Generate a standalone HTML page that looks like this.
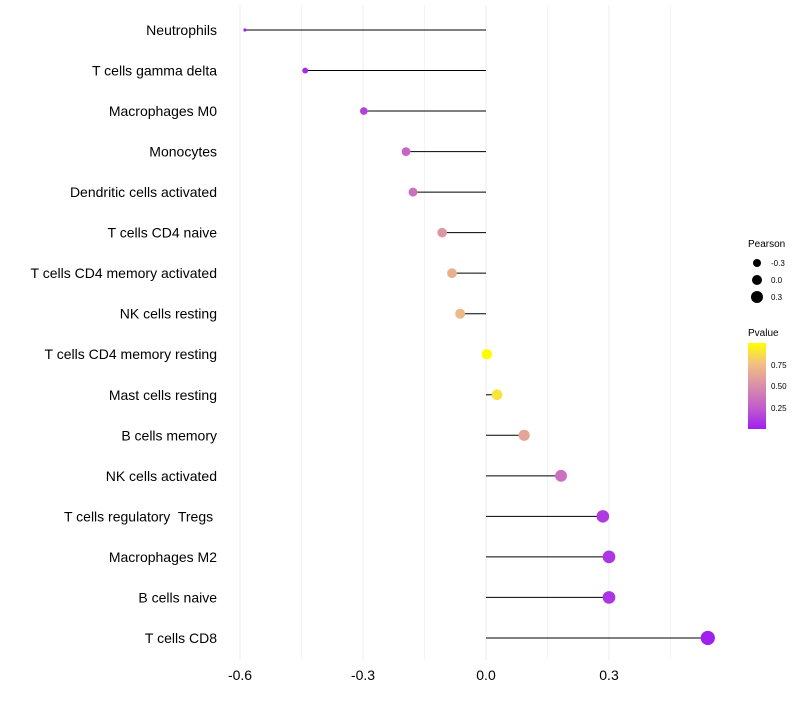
<!DOCTYPE html>
<html><head><meta charset="utf-8"><style>
body{margin:0;background:#fff;font-family:"Liberation Sans",sans-serif;}
text{white-space:pre;}
</style></head><body>
<svg id="chart" width="800" height="700" xmlns="http://www.w3.org/2000/svg">
<defs>
<linearGradient id="pg" x1="0" y1="1" x2="0" y2="0">
<stop offset="0" stop-color="#a020f0"/><stop offset="0.27" stop-color="#c461c9"/>
<stop offset="0.52" stop-color="#db92a6"/><stop offset="0.76" stop-color="#f2c082"/>
<stop offset="1" stop-color="#ffff00"/>
</linearGradient>
</defs>
<g id="grid"></g>
<g id="marks"></g>
<g id="labels"></g>
<g font-size="10">
<text x="748" y="247">Pearson</text>
<circle cx="757" cy="263" r="4" fill="#000"/>
<text x="771" y="266" font-size="8">-0.3</text>
<circle cx="757" cy="280" r="5" fill="#000"/>
<text x="771" y="283" font-size="8">0.0</text>
<circle cx="757" cy="297" r="6" fill="#000"/>
<text x="771" y="300" font-size="8">0.3</text>
</g>
<g font-size="10">
<text x="748" y="336">Pvalue</text>
<rect x="748" y="343" width="18" height="86" fill="url(#pg)"/>
<text x="771" y="368" font-size="8">0.75</text>
<text x="771" y="389" font-size="8">0.50</text>
<text x="771" y="411" font-size="8">0.25</text>
</g>
</svg>
<script>
const cells=["Neutrophils","T cells gamma delta","Macrophages M0","Monocytes","Dendritic cells activated","T cells CD4 naive","T cells CD4 memory activated","NK cells resting","T cells CD4 memory resting","Mast cells resting","B cells memory","NK cells activated","T cells regulatory  Tregs ","Macrophages M2","B cells naive","T cells CD8"];
const pearson=[-0.588,-0.441,-0.298,-0.195,-0.178,-0.107,-0.083,-0.063,0.002,0.027,0.093,0.183,0.285,0.300,0.300,0.541];
const pvalues=[0.02,0.05,0.15,0.30,0.35,0.55,0.68,0.72,0.99,0.90,0.62,0.35,0.12,0.10,0.10,0.01];
const ticks=[-0.6,-0.3,0.0,0.3];
const tickLabels=["-0.6","-0.3","0.0","0.3"];
const NS="http://www.w3.org/2000/svg";
const x=v=>486+v*410;
const y=i=>30+i*40.53;
const pmin=0.01,pmax=1.0;
function col(p){
 const t=Math.max(0,Math.min(1,(p-pmin)/(pmax-pmin)));
 const st=[[0,[160,32,240]],[0.27,[196,97,201]],[0.52,[219,146,166]],[0.76,[242,192,130]],[1,[255,255,0]]];
 for(let k=1;k<st.length;k++){if(t<=st[k][0]){const a=st[k-1],b=st[k];const f=(t-a[0])/(b[0]-a[0]);
 const c=a[1].map((v,j)=>Math.round(v+(b[1][j]-v)*f));return `rgb(${c})`;}}
 return "rgb(255,255,0)";
}
const vmin=Math.min(...pearson),vmax=Math.max(...pearson);
const r=v=>Math.sqrt(2.5+48*(v-vmin)/(vmax-vmin));
function mk(tag,attrs,parent){const e=document.createElementNS(NS,tag);for(const k in attrs)e.setAttribute(k,attrs[k]);parent.appendChild(e);return e;}
const grid=document.getElementById('grid'),marks=document.getElementById('marks'),labels=document.getElementById('labels');
[-0.6,-0.45,-0.3,-0.15,0,0.15,0.3,0.45].forEach(v=>{
 const l=mk('line',{x1:x(v),x2:x(v),y1:5,y2:660,stroke:'#ededed','stroke-width':ticks.includes(v)?1:0.6},grid);
 
 
});
ticks.forEach((v,i)=>{
 const t=mk('text',{x:x(v),y:680,'text-anchor':'middle','font-size':14,fill:'#000'},labels);
 t.textContent=tickLabels[i];
 
 
});
cells.forEach((c,i)=>{
 const t=mk('text',{x:217,y:y(i)+5,'text-anchor':'end','font-size':14,fill:'#000'},labels);
 t.textContent=c;
 
 
 const l=mk('line',{x1:x(0),x2:x(pearson[i]),y1:y(i),y2:y(i),stroke:'#000','stroke-width':1},marks);
 
 
 const d=mk('circle',{cx:x(pearson[i]),cy:y(i),r:r(pearson[i]),fill:col(pvalues[i])},marks);
 
 
});
</script>
</body></html>
